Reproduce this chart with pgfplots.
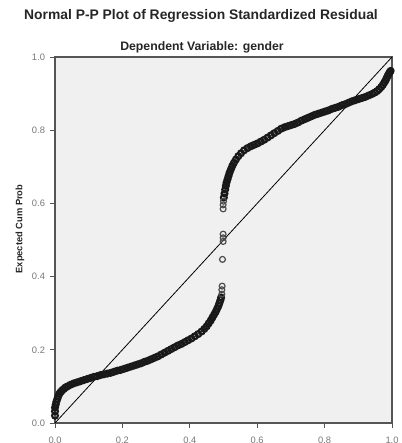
\documentclass[border=0pt]{standalone}
\usepackage{pgfplots}
\pgfplotsset{compat=1.18}
\usepackage{fontspec}
\setmainfont{Liberation Sans}
\definecolor{plotbg}{HTML}{F0F0F0}
\definecolor{frame}{HTML}{555555}
\definecolor{ticklab}{HTML}{777777}
\begin{document}
\begin{tikzpicture}[x=0.75pt,y=0.75pt]
\begin{axis}[
  at={(0,0)}, anchor=south west,
  scale only axis,
  width=252.75pt, height=274.5pt,
  xmin=0, xmax=1, ymin=0, ymax=1,
  axis background/.style={fill=plotbg},
  axis line style={draw=frame, line width=0.8pt},
  xtick={0,0.2,...,1}, ytick={0,0.2,...,1},
  tick align=outside, tick pos=left,
  major tick length=4pt,
  tick style={draw=frame, line width=0.6pt},
  xticklabel style={font=\fontsize{7}{8}\selectfont, text=ticklab, yshift=-3pt},
  yticklabel style={font=\fontsize{7}{8}\selectfont, text=ticklab},
  /pgf/number format/.cd, fixed, fixed zerofill, precision=1, assume math mode=true,
  /pgfplots/.cd,
  ylabel={\bfseries Expected Cum Prob},
  ylabel style={font=\fontsize{7}{8}\selectfont, text=black!85, at={(axis description cs:-0.104,0.53)}, anchor=center},
  clip=false,
]
\addplot[black, line width=0.6pt, no marks] coordinates {(0,0) (1,1)};
\addplot[only marks, mark=o, mark size=2.2pt, mark options={draw=black!90, line width=1.6pt}] coordinates {
(0.000,0.020)(0.000,0.032)(0.000,0.042)(0.002,0.050)(0.004,0.058)
(0.007,0.066)(0.010,0.074)(0.013,0.080)(0.017,0.085)(0.021,0.089)(0.026,0.093)(0.031,0.097)(0.037,0.100)(0.045,0.104)(0.055,0.108)(0.065,0.111)(0.075,0.114)(0.085,0.117)(0.095,0.120)(0.105,0.123)(0.115,0.126)(0.125,0.128)(0.135,0.131)(0.145,0.133)(0.155,0.135)(0.165,0.137)(0.175,0.140)(0.185,0.143)(0.195,0.145)(0.205,0.148)(0.215,0.151)(0.225,0.154)(0.235,0.157)(0.245,0.160)(0.255,0.163)(0.265,0.167)(0.275,0.170)(0.285,0.174)(0.295,0.178)(0.305,0.182)(0.315,0.187)(0.325,0.192)(0.335,0.197)(0.345,0.202)(0.355,0.207)(0.365,0.212)(0.375,0.216)(0.385,0.221)(0.395,0.226)(0.405,0.231)(0.415,0.237)(0.425,0.243)(0.435,0.250)(0.443,0.257)(0.450,0.264)(0.456,0.272)(0.462,0.280)(0.467,0.288)(0.472,0.296)(0.477,0.304)(0.481,0.312)(0.485,0.320)(0.488,0.328)(0.491,0.336)(0.493,0.343)
(0.501,0.616)(0.503,0.627)(0.505,0.638)(0.507,0.648)(0.509,0.657)(0.512,0.666)(0.515,0.675)(0.518,0.684)(0.522,0.693)(0.526,0.702)(0.531,0.711)(0.537,0.720)(0.544,0.729)(0.552,0.737)(0.561,0.745)(0.571,0.751)(0.581,0.756)(0.591,0.760)(0.601,0.764)(0.611,0.769)(0.621,0.774)(0.631,0.780)(0.641,0.786)(0.651,0.792)(0.661,0.798)(0.671,0.804)(0.681,0.808)(0.691,0.811)(0.701,0.814)(0.711,0.817)(0.721,0.821)(0.731,0.826)(0.741,0.830)(0.751,0.834)(0.761,0.838)(0.771,0.842)(0.781,0.845)(0.791,0.848)(0.801,0.851)(0.811,0.854)(0.821,0.858)(0.831,0.861)(0.841,0.864)(0.851,0.868)(0.861,0.871)(0.871,0.875)(0.881,0.879)(0.891,0.882)(0.901,0.885)(0.911,0.888)(0.921,0.891)(0.931,0.895)(0.941,0.899)(0.949,0.903)(0.956,0.907)(0.962,0.912)(0.968,0.918)(0.973,0.924)(0.977,0.930)(0.981,0.936)(0.984,0.942)(0.987,0.948)(0.990,0.953)(0.993,0.958)(0.996,0.962)
};
\addplot[only marks, mark=o, mark size=2.2pt, mark options={draw=black!70, line width=0.9pt}] coordinates {
(0.495,0.352)(0.495,0.364)(0.496,0.374)(0.497,0.447)(0.499,0.496)(0.499,0.506)(0.499,0.516)(0.499,0.585)(0.499,0.596)(0.500,0.606)
};
\end{axis}
\node[font=\bfseries\fontsize{10.4}{11}\selectfont, text=black!85] at (146,407) {Normal P-P Plot of Regression Standardized Residual};
\node[font=\bfseries\fontsize{9.2}{10}\selectfont, text=black!85] at (147,376) {Dependent Variable: gender};
\pgfresetboundingbox
\useasboundingbox (-55,-20) rectangle (347,423);
\end{tikzpicture}
\end{document}
